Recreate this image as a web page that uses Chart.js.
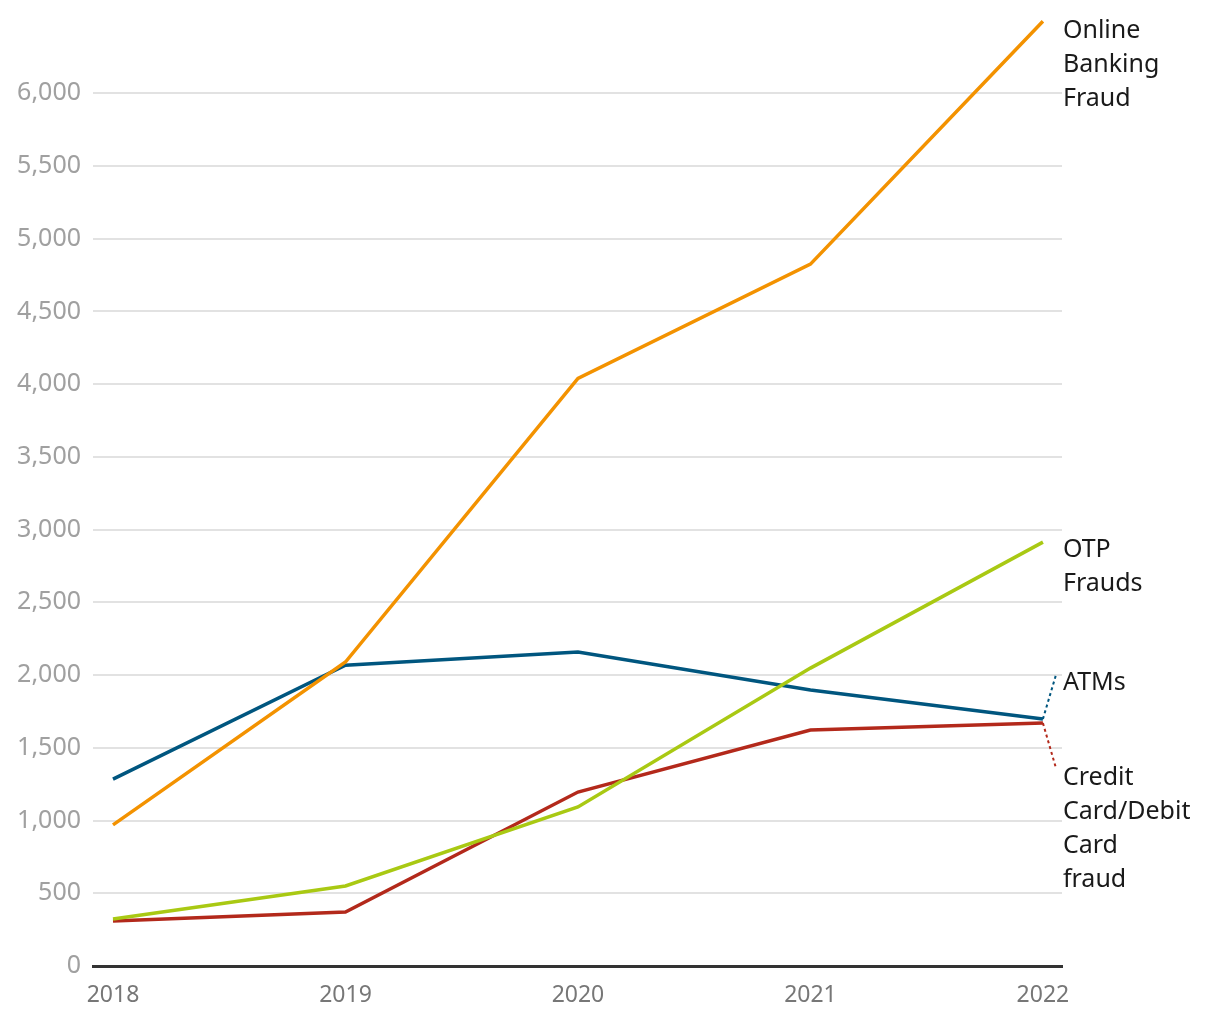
<!DOCTYPE html>
<html>
<head>
<meta charset="utf-8">
<script src="https://cdn.jsdelivr.net/npm/chart.js@4"></script>
<style>
    body { margin: 0; background: #fff; }
    #wrap { width: 1220px; height: 1020px; position: relative; }
</style>
</head>
<body>
<div id="wrap"><canvas id="fraudChart"></canvas></div>
<script>
// Datos del gráfico
const years = [2018, 2019, 2020, 2021, 2022];
const onlineBanking = [970, 2090, 4040, 4825, 6495];
const atms = [1285, 2068, 2158, 1897, 1698];
const otpFrauds = [323, 550, 1093, 2048, 2914];
const cardFraud = [309, 371, 1196, 1622, 1670];
const yTicks = [0, 500, 1000, 1500, 2000, 2500, 3000, 3500, 4000, 4500, 5000, 5500, 6000];

const seriesNames = [
    ['Online', 'Banking', 'Fraud'],
    ['OTP', 'Frauds'],
    ['ATMs'],
    ['Credit', 'Card/Debit', 'Card', 'fraud']
];

const toPoints = arr => arr.map((v, i) => ({ x: years[i], y: v }));

// Etiquetas al final de cada línea
const endLabels = {
    id: 'endLabels',
    afterDatasetsDraw(chart, args, opts) {
        const ctx = chart.ctx;
        const xs = chart.scales.x;
        const ys = chart.scales.y;
        const lastX = xs.getPixelForValue(years[years.length - 1]);
        ctx.save();

        // conectores punteados
        ctx.lineWidth = 2;
        ctx.setLineDash([3, 3]);
        opts.connectors.forEach(c => {
            const ds = chart.data.datasets[c.ds];
            const py = ys.getPixelForValue(ds.data[ds.data.length - 1].y);
            ctx.strokeStyle = ds.borderColor;
            ctx.beginPath();
            ctx.moveTo(lastX, py);
            ctx.lineTo(lastX + 13, c.toY);
            ctx.stroke();
        });
        ctx.setLineDash([]);

        ctx.font = '25px "Noto Sans", sans-serif';
        ctx.fillStyle = '#1a1a1a';
        ctx.textBaseline = 'middle';
        ctx.textAlign = 'left';
        seriesNames.forEach((lines, i) => {
            lines.forEach((txt, j) => {
                ctx.fillText(txt, lastX + 20, opts.firstY[i] + j * 34);
            });
        });
        ctx.restore();
    }
};

const chart = new Chart(document.getElementById('fraudChart'), {
    type: 'line',
    data: {
        datasets: [
            { label: 'Online Banking Fraud', data: toPoints(onlineBanking), borderColor: '#f39200' },
            { label: 'OTP Frauds', data: toPoints(otpFrauds), borderColor: '#a9c913' },
            { label: 'ATMs', data: toPoints(atms), borderColor: '#00567f' },
            { label: 'Credit Card/Debit Card fraud', data: toPoints(cardFraud), borderColor: '#b3291b' }
        ]
    },
    options: {
        responsive: true,
        maintainAspectRatio: false,
        animation: false,
        elements: {
            line: { borderWidth: 3.5, tension: 0, fill: false },
            point: { radius: 0 }
        },
        layout: { padding: { top: 6, right: 158, left: 0, bottom: 0 } },
        plugins: {
            legend: { display: false },
            tooltip: { enabled: false },
            endLabels: {
                firstY: [31, 550, 683, 778],
                connectors: [{ ds: 2, toY: 675 }, { ds: 3, toY: 768 }]
            }
        },
        scales: {
            x: {
                type: 'linear',
                min: 2017.914,
                max: 2022.082,
                afterFit: s => { s.height = 54; s.paddingLeft = 0; s.paddingRight = 0; },
                afterBuildTicks: s => { s.ticks = years.map(v => ({ value: v })); },
                grid: { display: false, drawTicks: false },
                border: { display: true, color: '#333333', width: 3 },
                ticks: {
                    padding: 16,
                    color: '#777777',
                    font: { family: '"Noto Sans", sans-serif', size: 23 },
                    callback: v => String(v),
                    maxRotation: 0
                }
            },
            y: {
                min: 0,
                max: 6600,
                afterFit: s => { s.width = 93; s.paddingTop = 0; s.paddingBottom = 0; },
                afterBuildTicks: s => { s.ticks = yTicks.map(v => ({ value: v })); },
                grid: { color: '#e2e2e2', lineWidth: 2, drawTicks: false },
                border: { display: false },
                ticks: {
                    padding: 12,
                    color: '#a0a0a0',
                    font: { family: '"Noto Sans", sans-serif', size: 25 },
                    callback: v => v.toLocaleString('en-US')
                }
            }
        }
    },
    plugins: [endLabels]
});
</script>
</body>
</html>
